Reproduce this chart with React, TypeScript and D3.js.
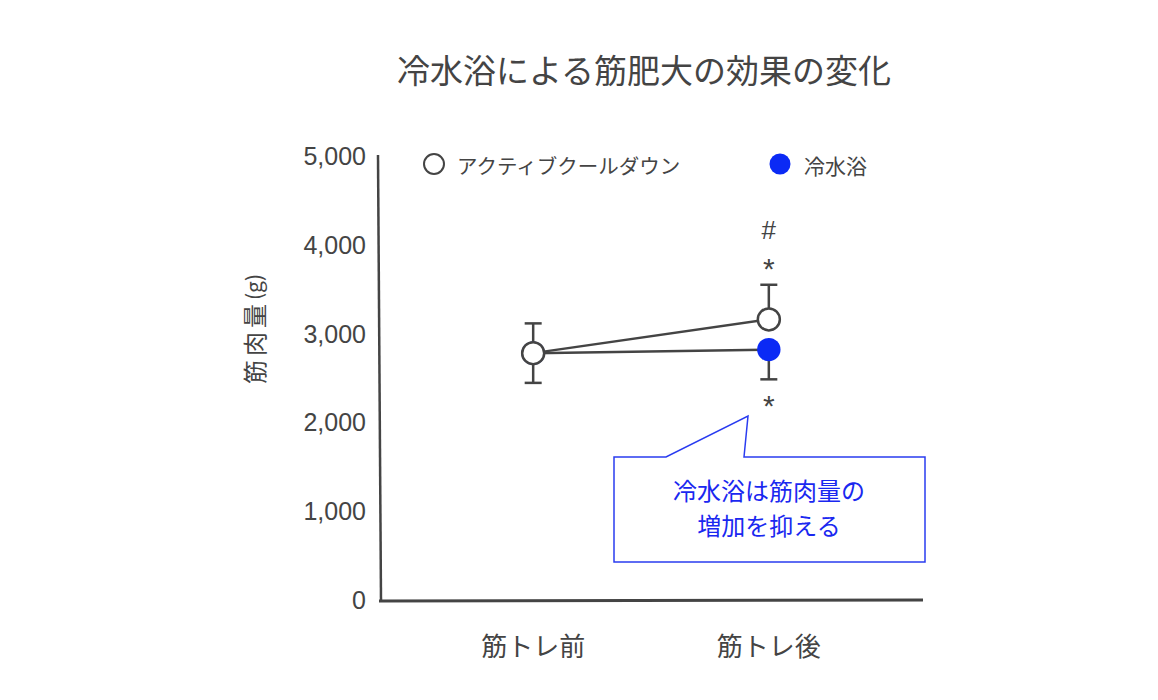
import React from 'react';
import * as d3 from 'd3';

const W = 1158;
const H = 700;

// data
const timepoints = ['筋トレ前', '筋トレ後'];
const activeMean = [2780, 3160];
const activeSd = [335, 390];
const coldMean = [2780, 2820];
const coldSd = [335, 335];
const yTicks = [0, 1000, 2000, 3000, 4000, 5000];

const seriesNames = ['アクティブクールダウン', '冷水浴'];
const calloutLines = ['冷水浴は筋肉量の', '増加を抑える'];

const JP = '"Noto Sans CJK JP", "Noto Sans", sans-serif';
const NUM = '"Liberation Sans", Arial, sans-serif';
const INK = '#444444';
const BLUE = '#0b2af5';

const App: React.FC = () => {
  const x = d3.scalePoint<string>().domain(timepoints).range([380, 922]).padding(0.65);
  const y = d3.scaleLinear().domain([0, 5000]).range([600, 156]);
  const fmt = d3.format(',');

  const line = d3.line<number>()
    .x((_, i) => x(timepoints[i])!)
    .y(d => y(d));

  const postX = x(timepoints[1])!;

  return (
    <svg width={W} height={H} style={{ position: 'absolute', left: 0, top: 0, background: '#fff' }}>
      {/* title */}
      <text x={644} y={69} textAnchor="middle" dominantBaseline="central"
        fontFamily={JP} fontSize={33} fill={INK}>冷水浴による筋肥大の効果の変化</text>

      {/* axes */}
      <line x1={378} y1={155} x2={381} y2={601} stroke={INK} strokeWidth={2.5} />
      <line x1={379} y1={601} x2={923} y2={600} stroke={INK} strokeWidth={3} />

      {yTicks.map(t => (
        <text key={t} x={366} y={y(t)} textAnchor="end" dominantBaseline="central"
          fontFamily={NUM} fontSize={25} fill={INK}>{fmt(t)}</text>
      ))}

      {timepoints.map(t => (
        <text key={t} x={x(t)} y={644} textAnchor="middle" dominantBaseline="central"
          fontFamily={JP} fontSize={26} fill={INK}>{t}</text>
      ))}

      <text transform="translate(253,329) rotate(-90)" textAnchor="middle" dominantBaseline="central"
        fontFamily={JP} fontSize={24} fill={INK}>
        <tspan letterSpacing={4}>筋肉量</tspan><tspan fontSize={21}>(g)</tspan>
      </text>

      {/* legend */}
      <circle cx={434} cy={164} r={10} fill="#fff" stroke={INK} strokeWidth={2} />
      <text x={457} y={165} dominantBaseline="central" fontFamily={JP} fontSize={20.5} fill={INK}>{seriesNames[0]}</text>
      <circle cx={780} cy={164} r={10.5} fill={BLUE} />
      <text x={804} y={165} dominantBaseline="central" fontFamily={JP} fontSize={21} fill={INK}>{seriesNames[1]}</text>

      {/* connecting lines */}
      <path d={line(activeMean)!} fill="none" stroke={INK} strokeWidth={2.5} />
      <path d={line(coldMean)!} fill="none" stroke={INK} strokeWidth={2.5} />

      {/* error bars: active upward, cold downward */}
      {timepoints.map((t, i) => {
        const cx = x(t)!;
        const top = y(activeMean[i] + activeSd[i]);
        const bot = y(coldMean[i] - coldSd[i]);
        return (
          <g key={t} stroke={INK} strokeWidth={2.5}>
            <line x1={cx} x2={cx} y1={y(activeMean[i])} y2={top} />
            <line x1={cx - 8.5} x2={cx + 8.5} y1={top} y2={top} />
            <line x1={cx} x2={cx} y1={y(coldMean[i])} y2={bot} />
            <line x1={cx - 8.5} x2={cx + 8.5} y1={bot} y2={bot} />
          </g>
        );
      })}

      {/* markers */}
      {coldMean.map((v, i) => (
        <circle key={'c' + i} cx={x(timepoints[i])} cy={y(v)} r={11.7} fill={BLUE} />
      ))}
      {activeMean.map((v, i) => (
        <circle key={'a' + i} cx={x(timepoints[i])} cy={y(v)} r={11} fill="#fff" stroke={INK} strokeWidth={2.5} />
      ))}

      {/* significance marks */}
      <text x={postX} y={239} textAnchor="middle" fontFamily={NUM} fontSize={26} fill={INK}>#</text>
      <text x={postX} y={279} textAnchor="middle" fontFamily={NUM} fontSize={30} fill={INK}>*</text>
      <text x={postX} y={416} textAnchor="middle" fontFamily={NUM} fontSize={30} fill={INK}>*</text>

      {/* callout */}
      <path d="M614,457 L666,457 L748,416 L744,457 L925,457 L925,562 L614,562 Z"
        fill="#fff" stroke="#2a3cf0" strokeWidth={1.5} />
      {calloutLines.map((s, i) => (
        <text key={s} x={769} y={489 + i * 35} textAnchor="middle" dominantBaseline="central"
          fontFamily={JP} fontSize={24} fill="#1a28f0">{s}</text>
      ))}
    </svg>
  );
};

export default App;
